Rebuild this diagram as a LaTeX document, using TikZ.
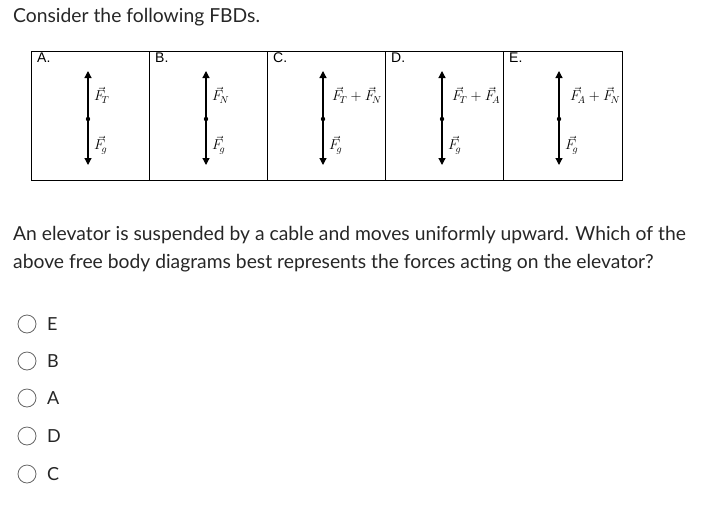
\documentclass[tikz,border=0pt]{standalone}
\usepackage{fontspec}
\setmainfont{Lato}
\newfontfamily\arialf{Liberation Sans}
\usetikzlibrary{arrows.meta}
\begin{document}
\begin{tikzpicture}[x=1pt,y=-1pt,
  txt/.style={anchor=west,inner sep=0pt,font=\fontsize{19.3}{23}\selectfont,text=black!85},
  cell/.style={draw,line width=0.8pt},
  clab/.style={anchor=north west,inner sep=0pt,font=\arialf\fontsize{14}{16}\selectfont},
  force/.style={line width=1.2pt,-{Triangle[length=7pt,width=7pt]}},
  flab/.style={anchor=west,inner sep=0pt,font=\fontsize{14}{16}\selectfont},
  radio/.style={circle,draw=black!60,line width=0.8pt,minimum size=18pt,inner sep=0pt}]
\useasboundingbox (0,0) rectangle (708,506);
\node[txt] (title) at (13,17) {Consider the following FBDs.};
\foreach \l/\xa/\xb/\ax [count=\i] in {A./31/149/88, B./149/267/206, C./267/385/323, D./385/503/442, E./503/622/559}{
  \draw[cell] (\xa,51) rectangle (\xb,180);
  \node[clab] (lab\i) at (\xa+6,53) {\l};
  \coordinate (c\i) at (\ax,119);
  \coordinate (t\i) at (\ax,71);
  \coordinate (b\i) at (\ax,165);
  \draw[force] (c\i) -- (t\i);
  \draw[force] (c\i) -- (b\i);
  \fill (c\i) circle (2.2pt);
  \node[flab] (g\i) at (\ax+6,145) {$\vec{F}_{\!g}$};
}
\node[flab] (f1) at (94,95) {$\vec{F}_{\!T}$};
\node[flab] (f2) at (212,95) {$\vec{F}_{\!N}$};
\node[flab] (f3) at (332,95) {$\vec{F}_{\!T}+\vec{F}_{\!N}$};
\node[flab] (f4) at (452,95) {$\vec{F}_{\!T}+\vec{F}_{\!A}$};
\node[flab] (f5) at (570,95) {$\vec{F}_{\!A}+\vec{F}_{\!N}$};
\node[txt] (q1) at (13,235) {An elevator is suspended by a cable and moves uniformly upward. Which of the};
\node[txt] (q2) at (13,263) {above free body diagrams best represents the forces acting on the elevator?};
\foreach \l/\y [count=\i] in {E/324, B/361, A/398, D/436, C/474}{
  \node[radio] (r\i) at (27,\y) {};
  \node[txt,font=\fontsize{18}{21}\selectfont] (o\i) at (47,\y) {\l};
}
\end{tikzpicture}
\end{document}
